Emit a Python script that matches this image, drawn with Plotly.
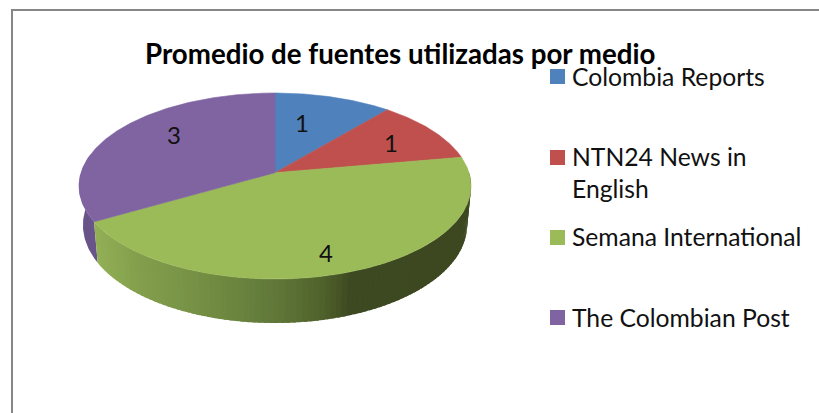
import numpy as np
import plotly.graph_objects as go

TITLE = "Promedio de fuentes utilizadas por medio"
categories = ["Colombia Reports", "NTN24 News in English", "Semana International", "The Colombian Post"]
legend_labels = ["Colombia Reports", "NTN24 News in<br>English", "Semana International", "The Colombian Post"]
values = [1, 1, 4, 3]
colors = ["#4f81bd", "#c0504d", "#9bbb59", "#8064a2"]
wall_purple = "#69548a"

# page geometry of the tilted disc (pixels)
W, H = 819, 413
CX, CY, RX = 275.0, 172.7, 194.0
PA, PC = -66.4, 0.143
DEPTH, DEPTH_SLOPE, SX = 41.0, 0.0526, 0.98


def top(angle):
    """Project clockwise-from-north angle (deg) on the tilted disc."""
    t = np.radians(angle)
    u, v = np.sin(t), np.cos(t)
    w = 1 + PC * v
    return CX + RX * u / w, (PA * v + CY) / w


def bottom(x, y):
    return CX + SX * (x - CX), y + DEPTH + (y - 222) * DEPTH_SLOPE


def rim(a0, a1):
    n = max(int(abs(a1 - a0)) * 2, 2)
    return top(np.linspace(a0, a1, n))


total = sum(values)
edges = np.cumsum([0] + values) * 360.0 / total

fig = go.Figure()


def poly(xs, ys, color, name=None, lw=0.6):
    fig.add_trace(go.Scatter(
        x=list(xs), y=list(ys), mode="lines", fill="toself", fillcolor=color,
        line=dict(color=color, width=lw), hoverinfo="skip", showlegend=False, name=name))


def wall(a0, a1, color):
    x, y = rim(a0, a1)
    bx, by = bottom(x, y)
    poly(np.r_[x, bx[::-1]], np.r_[y, by[::-1]], color, lw=0)


# side wall: purple part to the left, shaded green part to the right
wall(edges[3], 282, wall_purple)

stops_x = [95, 130, 200, 275, 320, 347, 470]
stops_rgb = np.array([[146, 176, 86], [133, 161, 78], [116, 143, 68], [96, 119, 56],
                      [80, 98, 44], [62, 74, 33], [61, 72, 33]])
angles = np.r_[np.arange(90.0, edges[3], 1.5), edges[3]]
for a0, a1 in zip(angles[:-1], angles[1:]):
    x_mid = top((a0 + a1) / 2)[0]
    rgb = [int(np.interp(x_mid, stops_x, stops_rgb[:, i])) for i in range(3)]
    # bands run right to left, each overlapping the previous one to hide seams
    wall(a0 - 1.0, a1, "rgb(%d,%d,%d)" % tuple(rgb))

# top faces
for name, c, a0, a1 in zip(categories, colors, edges[:-1], edges[1:]):
    x, y = rim(a0, a1)
    poly(np.r_[CX, x, CX], np.r_[CY, y, CY], c, name)

# legend swatches
legend_y = [76.5, 157.5, 237.5, 317.5]
fig.add_trace(go.Scatter(
    x=[557.5] * 4, y=legend_y, mode="markers",
    marker=dict(symbol="square", size=15, color=colors, line=dict(width=0)),
    hoverinfo="skip", showlegend=False))

FONT = "Lato, Carlito, Calibri, sans-serif"
ann = []
for txt, yy in zip(legend_labels, [76, 172, 236, 317]):
    ann.append(dict(x=570, y=yy, text=txt, xref="x", yref="y", xanchor="left", yanchor="middle",
                    align="left", showarrow=False, font=dict(family=FONT, size=24.7, color="#111111")))
for v, (lx, ly) in zip(values, [(302, 122), (391, 142), (326, 252), (174, 134)]):
    ann.append(dict(x=lx, y=ly, text=str(v), xref="x", yref="y", showarrow=False,
                    font=dict(family=FONT, size=24, color="#111111")))
ann.append(dict(x=400, y=53, text="<b>%s</b>" % TITLE, xref="x", yref="y", showarrow=False,
                font=dict(family=FONT, size=27.7, color="#000000")))

border = dict(color="#868686", width=2)
fig.update_layout(
    width=W, height=H, margin=dict(l=0, r=0, t=0, b=0), autosize=False,
    paper_bgcolor="white", plot_bgcolor="white",
    xaxis=dict(range=[0, W], visible=False, fixedrange=True),
    yaxis=dict(range=[H, 0], visible=False, fixedrange=True),
    annotations=ann,
    shapes=[
        dict(type="line", xref="x", yref="y", x0=11, y0=10, x1=W, y1=10, line=border),
        dict(type="line", xref="x", yref="y", x0=12, y0=9, x1=12, y1=H, line=border),
    ],
)
fig.write_html("out.html", config=dict(displayModeBar=False),
               post_script="document.body.style.margin='0';document.body.style.overflow='hidden';")
